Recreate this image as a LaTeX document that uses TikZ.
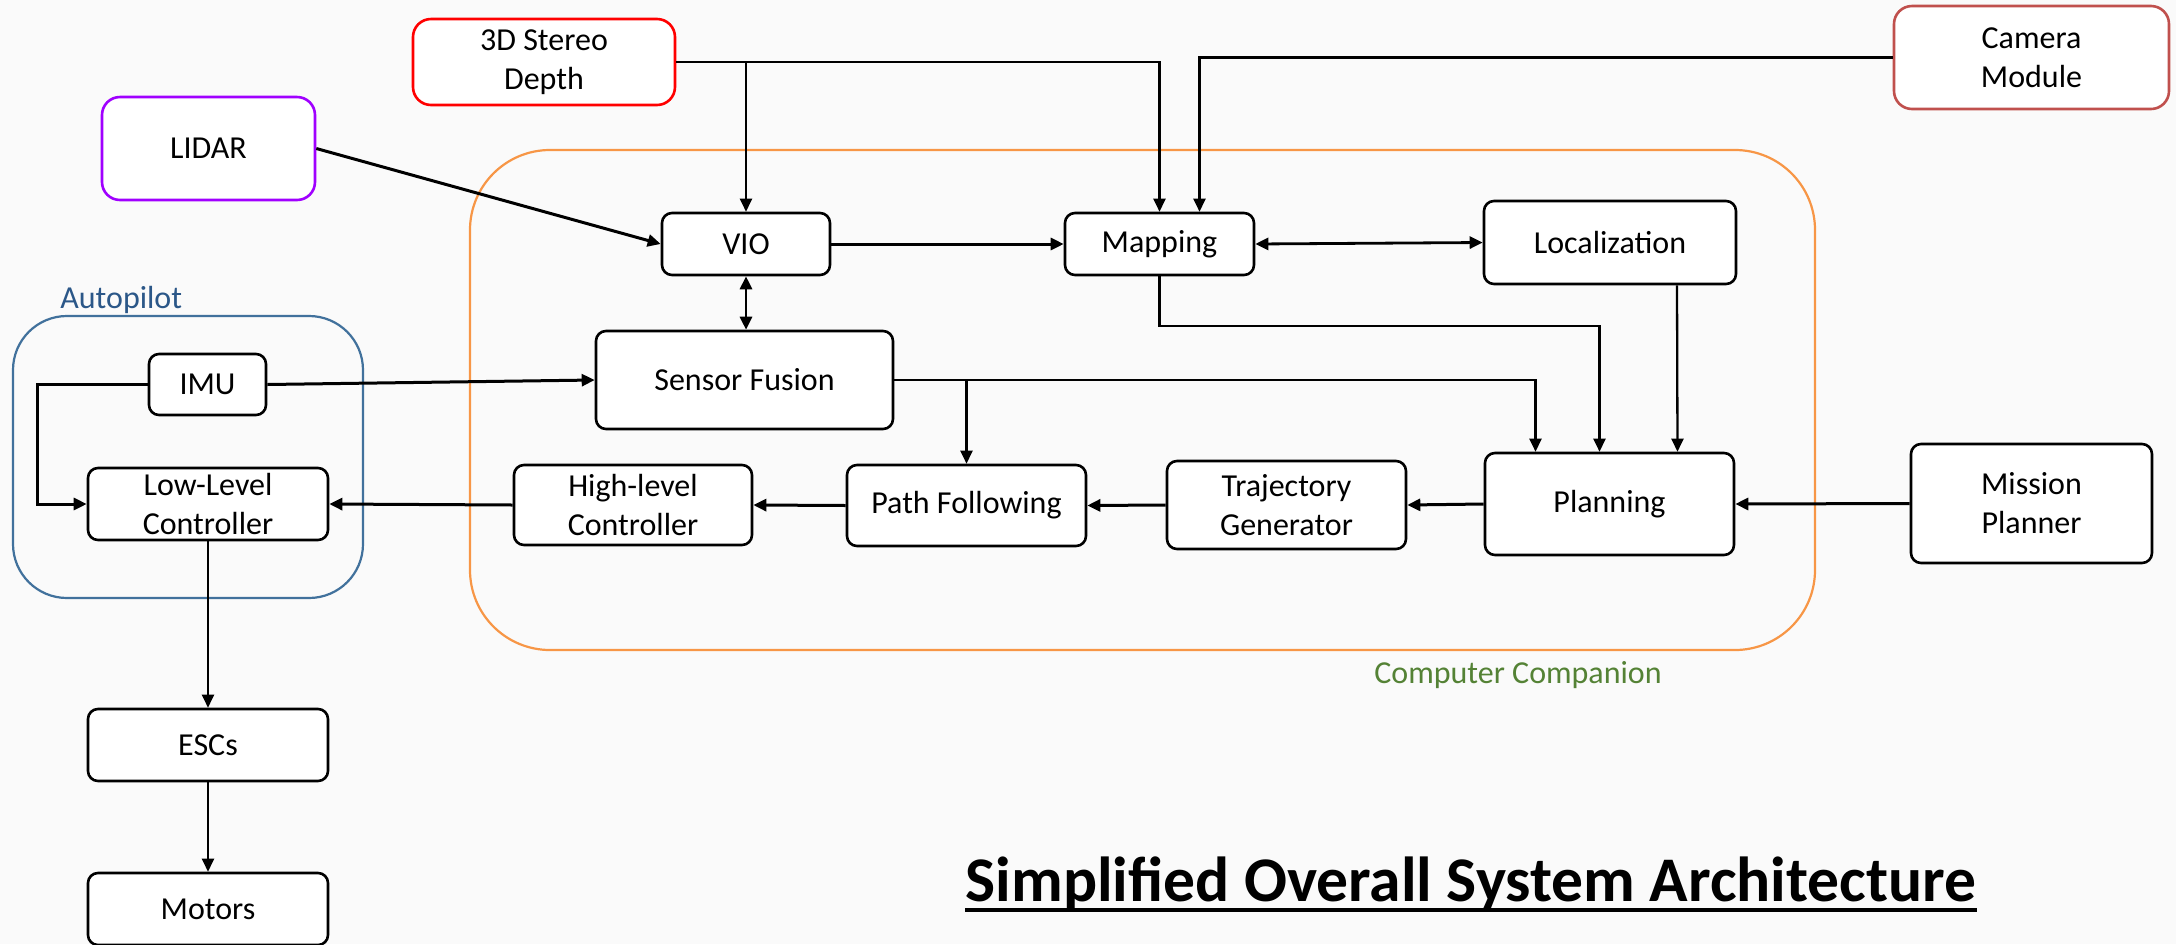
\documentclass[tikz,border=0pt]{standalone}
\usepackage{fontspec}
\setmainfont{Carlito}
\usetikzlibrary{arrows.meta,calc}
\definecolor{bg}{RGB}{250,250,250}
\definecolor{stereored}{RGB}{255,0,0}
\definecolor{lidarpurple}{RGB}{160,0,255}
\definecolor{camred}{RGB}{192,80,77}
\definecolor{apblue}{RGB}{65,113,156}
\definecolor{aptext}{RGB}{43,87,136}
\definecolor{ccorange}{RGB}{247,150,70}
\definecolor{ccgreen}{RGB}{84,130,53}
\begin{document}
\begin{tikzpicture}[x=0.5pt,y=-0.5pt,
  box/.style={draw=black, line width=1.3pt, rounded corners=5pt, fill=white,
    font=\fontsize{16}{19.5}\selectfont, align=center, inner sep=0pt},
  src/.style={box, rounded corners=9pt},
  arr/.style={line width=1.15pt, -{Triangle[length=6.5pt,width=6pt]}},
  tarr/.style={line width=1.5pt, -{Triangle[length=6.5pt,width=6pt]}},
  darr/.style={line width=1.4pt, {Triangle[length=6.5pt,width=6pt]}-{Triangle[length=6.5pt,width=6pt]}},
  cont/.style={line width=1.1pt}
]
\useasboundingbox (0,0) rectangle (2176,944);
\fill[bg] (0,0) rectangle (2176,944);
\begin{scope}
\clip (0,0) rectangle (2176,944);

% containers
\draw[cont, draw=ccorange, rounded corners=40pt] (470,150) rectangle (1815,650);
\draw[cont, draw=apblue, rounded corners=27pt] (13,316) rectangle (363,598);

% source boxes
\node[src, draw=stereored, minimum width=131pt, minimum height=43pt] (stereo) at (544,62) {3D Stereo\\Depth};
\node[src, draw=lidarpurple, minimum width=106.5pt, minimum height=51.5pt] (lidar) at (208.5,148.5) {LIDAR};
\node[src, draw=camred, minimum width=137.5pt, minimum height=51.5pt] (camera) at (2031.5,57.5) {Camera\\Module};

% inner boxes
\node[box, minimum width=84pt, minimum height=31pt] (vio) at (746,244) {VIO};
\node[box, minimum width=94.5pt, minimum height=31pt] (mapping) at (1159.5,244) {Mapping};
\node[box, minimum width=126pt, minimum height=41.5pt] (loc) at (1610,242.5) {Localization};
\node[box, minimum width=148.5pt, minimum height=49pt] (fusion) at (744.5,380) {Sensor Fusion};
\node[box, minimum width=58.5pt, minimum height=30.5pt] (imu) at (207.5,384.5) {IMU};
\node[box, minimum width=120pt, minimum height=36pt] (llc) at (208,504) {Low-Level\\Controller};
\node[box, minimum width=119pt, minimum height=40pt] (hlc) at (633,505) {High-level\\Controller};
\node[box, minimum width=119.5pt, minimum height=40.5pt] (path) at (966.5,505.5) {Path Following};
\node[box, minimum width=119.5pt, minimum height=44pt] (traj) at (1286.5,505) {Trajectory\\Generator};
\node[box, minimum width=124.5pt, minimum height=51pt] (plan) at (1609.5,504) {Planning};
\node[box, minimum width=120.5pt, minimum height=59.5pt] (mission) at (2031.5,503.5) {Mission\\Planner};
\node[box, minimum width=120pt, minimum height=36pt] (escs) at (208,745) {ESCs};
\node[box, minimum width=120pt, minimum height=36pt] (motors) at (208,909) {Motors};

% connectors
\draw[arr] (stereo.east) -| (mapping.north);
\draw[arr] (stereo.east -| vio.north) -- (vio.north);
\draw[arr] (camera.west) -| ([xshift=20pt]mapping.north);
\draw[tarr] (lidar.east) -- (vio.west);
\draw[tarr] (vio.east) -- (mapping.west);
\draw[darr] (mapping.east) -- (loc.west);
\draw[darr] (vio.south) -- (vio.south |- fusion.north);
\draw[arr] (mapping.south) -- ++(0,50) -| ([xshift=-5pt]plan.north);
\draw[arr] ([xshift=33.5pt]loc.south) -- ([xshift=34pt]plan.north);
\draw[arr] (fusion.east) -| ([xshift=-37pt]plan.north);
\draw[arr] (fusion.east -| path.north) -- (path.north);
\draw[tarr] (imu.east) -- (fusion.west);
\draw[tarr] (imu.west) -- ++(-110,0) |- (llc.west);
\draw[tarr] (hlc.west) -- (llc.east);
\draw[tarr] (path.west) -- (hlc.east);
\draw[tarr] (traj.west) -- (path.east);
\draw[tarr] (plan.west) -- (traj.east);
\draw[tarr] (mission.west) -- (plan.east);
\draw[arr] (llc.south) -- (escs.north);
\draw[arr] (escs.south) -- (motors.north);

% labels
\node[anchor=base west, inner sep=0pt, text=aptext, font=\fontsize{16}{19}\selectfont] (aplabel) at (60,308) {Autopilot};
\node[anchor=base west, inner sep=0pt, text=ccgreen, font=\fontsize{16}{19}\selectfont] (cclabel) at (1374,683) {Computer Companion};
\node[anchor=base, inner sep=0pt, font=\fontsize{31.8}{36}\selectfont\bfseries] (title) at (1471,901) {Simplified Overall System Architecture};
\draw[line width=2pt] ([yshift=-4.5pt]title.base west) -- ([yshift=-4.5pt]title.base east);
\end{scope}
\end{tikzpicture}
\end{document}
